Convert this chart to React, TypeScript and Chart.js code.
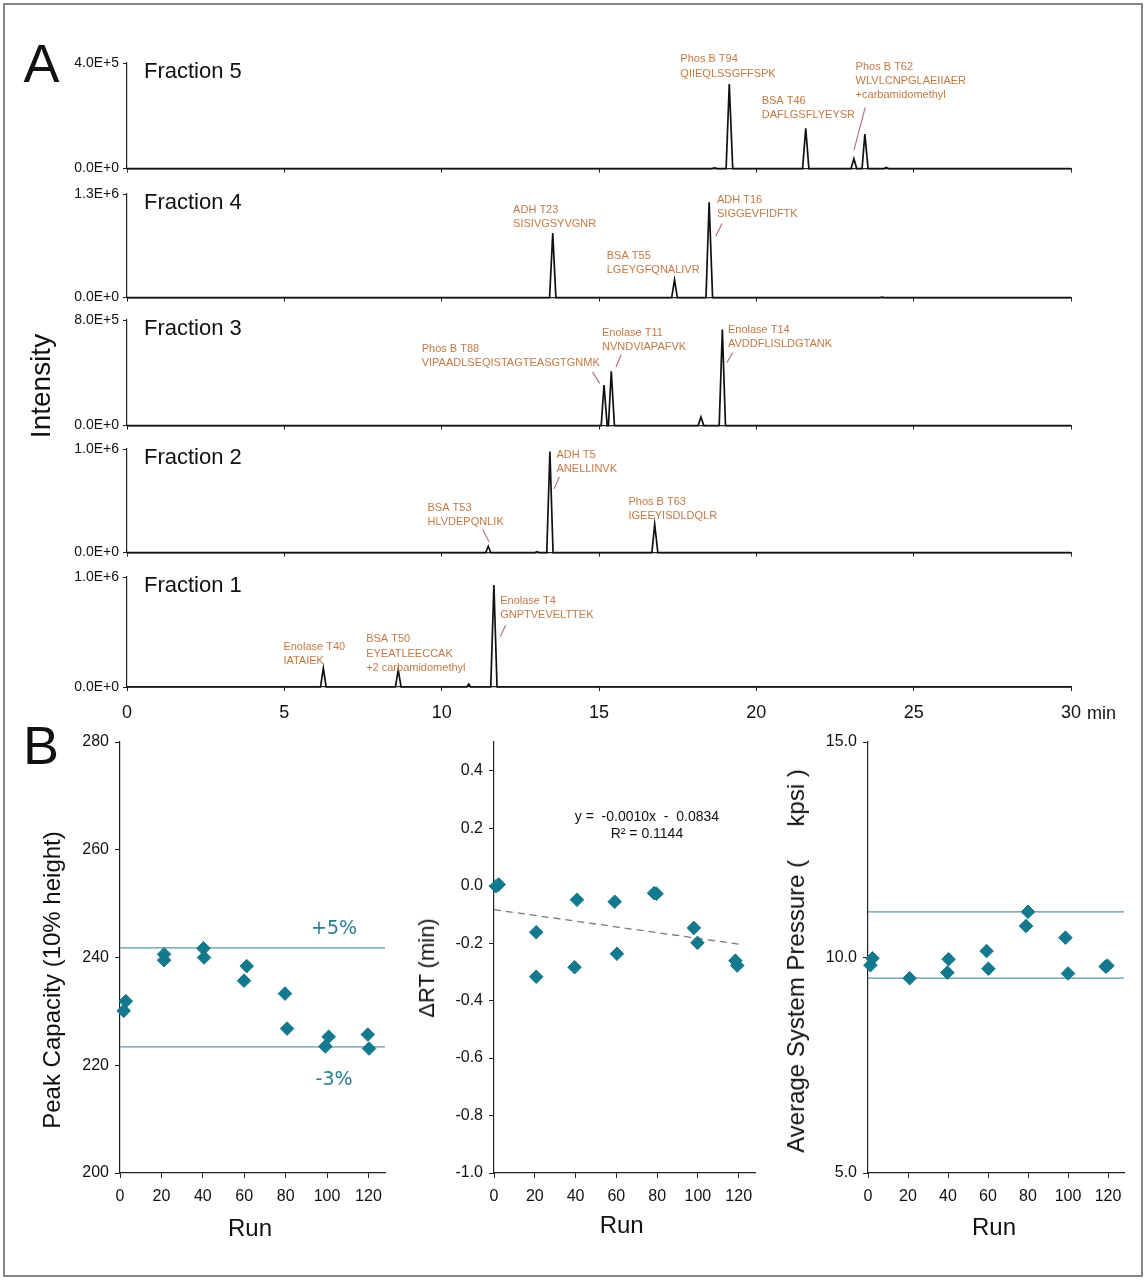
import React, { useEffect, useRef } from 'react';
import { Chart, registerables } from 'chart.js';

Chart.register(...registerables);
Chart.defaults.font.family = '"Liberation Sans", Arial, sans-serif';
Chart.defaults.color = '#111';

// ---------- Panel A: chromatograms ----------
const timeTicks = [0, 5, 10, 15, 20, 25, 30];
const fractionNames = ['Fraction 5', 'Fraction 4', 'Fraction 3', 'Fraction 2', 'Fraction 1'];
const fractionMax = [4e5, 1.3e6, 8e5, 1e6, 1e6];

const fraction5Time = [0, 18.58, 18.67, 18.76, 19.04, 19.14, 19.25, 21.47, 21.57, 21.67, 23.01, 23.1, 23.19, 23.36, 23.45, 23.55, 24.06, 24.13, 24.2, 30];
const fraction5Intensity = [0, 0, 3000, 0, 0, 3.2e5, 0, 0, 1.53e5, 0, 0, 0.375e5, 0, 0, 1.31e5, 0, 0, 4000, 0, 0];
const fraction4Time = [0, 13.43, 13.53, 13.63, 17.31, 17.4, 17.49, 18.4, 18.5, 18.61, 23.93, 24.0, 24.07, 30];
const fraction4Intensity = [0, 0, 0.809e6, 0, 0, 0.222e6, 0, 0, 1.196e6, 0, 0, 6000, 0, 0];
const fraction3Time = [0, 15.07, 15.16, 15.26, 15.3, 15.39, 15.49, 18.15, 18.24, 18.33, 18.82, 18.92, 19.02, 30];
const fraction3Intensity = [0, 0, 3.08e5, 0, 0, 4.12e5, 0, 0, 0.65e5, 0, 0, 7.27e5, 0, 0];
const fraction2Time = [0, 11.4, 11.48, 11.56, 12.97, 13.03, 13.09, 13.34, 13.44, 13.54, 16.68, 16.77, 16.87, 30];
const fraction2Intensity = [0, 0, 0.061e6, 0, 0, 0.008e6, 0, 0, 0.975e6, 0, 0, 0.273e6, 0, 0];
const fraction1Time = [0, 6.15, 6.24, 6.33, 8.53, 8.62, 8.71, 10.8, 10.86, 10.92, 11.56, 11.66, 11.76, 30];
const fraction1Intensity = [0, 0, 0.17e6, 0, 0, 0.155e6, 0, 0, 0.027e6, 0, 0, 0.927e6, 0, 0];

const fractionTimes = [fraction5Time, fraction4Time, fraction3Time, fraction2Time, fraction1Time];
const fractionIntensities = [fraction5Intensity, fraction4Intensity, fraction3Intensity, fraction2Intensity, fraction1Intensity];

type Note = { x: number; y: number; lines: string[] };
type Leader = { x1: number; y1: number; x2: number; y2: number };

const fraction5Notes: Note[] = [
  { x: 17.585, y: 4.145e5, lines: ['Phos B T94', 'QIIEQLSSGFFSPK'] },
  { x: 20.17, y: 2.571e5, lines: ['BSA T46', 'DAFLGSFLYEYSR'] },
  { x: 23.155, y: 3.865e5, lines: ['Phos B T62', 'WLVLCNPGLAEIIAER', '+carbamidomethyl'] },
];
const fraction5Leaders: Leader[] = [{ x1: 23.46, y1: 2.316e5, x2: 23.1, y2: 0.691e5 }];

const fraction4Notes: Note[] = [
  { x: 12.27, y: 1.105e6, lines: ['ADH T23', 'SISIVGSYVGNR'] },
  { x: 15.246, y: 0.525e6, lines: ['BSA T55', 'LGEYGFQNALIVR'] },
  { x: 18.75, y: 1.228e6, lines: ['ADH T16', 'SIGGEVFIDFTK'] },
];
const fraction4Leaders: Leader[] = [{ x1: 18.91, y1: 0.929e6, x2: 18.71, y2: 0.769e6 }];

const fraction3Notes: Note[] = [
  { x: 9.365, y: 5.82e5, lines: ['Phos B T88', 'VIPAADLSEQISTAGTEASGTGNMK'] },
  { x: 15.094, y: 7.03e5, lines: ['Enolase T11', 'NVNDVIAPAFVK'] },
  { x: 19.098, y: 7.27e5, lines: ['Enolase T14', 'AVDDFLISLDGTANK'] },
];
const fraction3Leaders: Leader[] = [
  { x1: 14.795, y1: 4.07e5, x2: 15.02, y2: 3.2e5 },
  { x1: 15.707, y1: 5.38e5, x2: 15.54, y2: 4.44e5 },
  { x1: 19.247, y1: 5.51e5, x2: 19.066, y2: 4.78e5 },
];

const fraction2Notes: Note[] = [
  { x: 9.55, y: 0.43e6, lines: ['BSA T53', 'HLVDEPQNLIK'] },
  { x: 13.65, y: 0.945e6, lines: ['ADH T5', 'ANELLINVK'] },
  { x: 15.936, y: 0.492e6, lines: ['Phos B T63', 'IGEEYISDLDQLR'] },
];
const fraction2Leaders: Leader[] = [
  { x1: 11.306, y1: 0.222e6, x2: 11.506, y2: 0.104e6 },
  { x1: 13.743, y1: 0.729e6, x2: 13.569, y2: 0.615e6 },
];

const fraction1Notes: Note[] = [
  { x: 4.97, y: 0.366e6, lines: ['Enolase T40', 'IATAIEK'] },
  { x: 7.6, y: 0.434e6, lines: ['BSA T50', 'EYEATLEECCAK', '+2 carbamidomethyl'] },
  { x: 11.86, y: 0.782e6, lines: ['Enolase T4', 'GNPTVEVELTTEK'] },
];
const fraction1Leaders: Leader[] = [{ x1: 12.037, y1: 0.564e6, x2: 11.86, y2: 0.457e6 }];

const fractionNotes = [fraction5Notes, fraction4Notes, fraction3Notes, fraction2Notes, fraction1Notes];
const fractionLeaders = [fraction5Leaders, fraction4Leaders, fraction3Leaders, fraction2Leaders, fraction1Leaders];

// ---------- Panel B ----------
const runTicks = [0, 20, 40, 60, 80, 100, 120];

const runPeakCapacity = [1.8, 2.8, 21.3, 21.3, 40.3, 40.6, 59.9, 61.2, 79.7, 80.7, 99.2, 100.8, 119.7, 120.3];
const peakCapacity = [230.1, 231.9, 240.6, 239.5, 241.7, 240.0, 235.7, 238.4, 233.3, 226.8, 223.5, 225.3, 225.7, 223.1];
const peakCapacityLimits = [241.8, 223.4];
const peakCapacityLimitLabels = ['+5%', '-3%'];
const peakCapacityLabelRun = [103.4, 103.4];
const peakCapacityLabelValue = [245.2, 217.2];
const peakCapacityTicks = [200, 220, 240, 260, 280];

const runDeltaRT = [1.0, 2.3, 20.7, 20.7, 39.5, 40.7, 59.2, 60.3, 78.5, 79.7, 98.0, 99.8, 118.4, 119.3];
const deltaRT = [-0.002, 0.004, -0.162, -0.317, -0.284, -0.049, -0.056, -0.237, -0.026, -0.028, -0.147, -0.199, -0.261, -0.278];
const trendRun = [0, 120];
const trendDeltaRT = [-0.0834, -0.2034];
const trendText = ['y =  -0.0010x  -  0.0834', 'R\u00b2 = 0.1144'];
const deltaRTTicks = [-1.0, -0.8, -0.6, -0.4, -0.2, 0.0, 0.2, 0.4];

const runPressure = [1.2, 2.2, 20.8, 39.7, 40.3, 59.3, 60.2, 79.0, 80.0, 98.7, 100.0, 118.8, 119.7];
const pressure = [9.82, 9.98, 9.52, 9.65, 9.96, 10.15, 9.74, 10.73, 11.06, 10.46, 9.63, 9.79, 9.81];
const pressureLimits = [11.06, 9.52];
const pressureTicks = [5, 10, 15];

// ---------- styles ----------
const ANNOT_COLOR = '#c27a45';
const LEADER_COLOR = '#b06a74';
const TEAL = '#14798d';
const LIMIT_COLOR = '#5a94ab';
const FONT = '"Liberation Sans", Arial, sans-serif';

type TextSpec = { x: number; y: number; lines: string[]; font: string; color: string; align: CanvasTextAlign; lineHeight: number };

function makeNotes(texts: TextSpec[], leaders: Leader[], corner?: string) {
  return {
    id: 'notes',
    afterDraw(chart: any) {
      const { ctx, chartArea } = chart;
      const xs = chart.scales.x;
      const ys = chart.scales.y;
      ctx.save();
      leaders.forEach((s) => {
        ctx.beginPath();
        ctx.strokeStyle = LEADER_COLOR;
        ctx.lineWidth = 1.1;
        ctx.moveTo(xs.getPixelForValue(s.x1), ys.getPixelForValue(s.y1));
        ctx.lineTo(xs.getPixelForValue(s.x2), ys.getPixelForValue(s.y2));
        ctx.stroke();
      });
      texts.forEach((t) => {
        ctx.font = t.font;
        ctx.fillStyle = t.color;
        ctx.textAlign = t.align;
        ctx.textBaseline = 'middle';
        const px = xs.getPixelForValue(t.x);
        const py = ys.getPixelForValue(t.y);
        t.lines.forEach((line, k) => ctx.fillText(line, px, py + k * t.lineHeight));
      });
      if (corner) {
        ctx.font = `22px ${FONT}`;
        ctx.fillStyle = '#111';
        ctx.textAlign = 'left';
        ctx.textBaseline = 'middle';
        ctx.fillText(corner, chartArea.left + 17, chartArea.top + 9);
      }
      ctx.restore();
    },
  };
}

const axisGrid = (len: number) => ({ display: true, drawOnChartArea: false, drawTicks: true, tickLength: len, color: '#222', lineWidth: 1 });
const axisBorder = { display: true, color: '#222', width: 1.2 };

function chromatogramConfig(idx: number, padTop: number, bottomH: number, showX: boolean) {
  const times = fractionTimes[idx];
  const vals = fractionIntensities[idx];
  const max = fractionMax[idx];
  const texts: TextSpec[] = fractionNotes[idx].map((n) => ({
    x: n.x, y: n.y, lines: n.lines, font: `11px ${FONT}`, color: ANNOT_COLOR, align: 'left', lineHeight: 14.3,
  }));
  return {
    type: 'scatter',
    data: {
      datasets: [{
        data: times.map((t, k) => ({ x: t, y: vals[k] })),
        showLine: true, borderColor: '#111', borderWidth: 1.7, pointRadius: 0, tension: 0, clip: false,
      }],
    },
    options: {
      animation: false, responsive: false, events: [],
      layout: { padding: { top: padTop, right: 76, bottom: 0, left: 0 } },
      plugins: { legend: { display: false }, tooltip: { enabled: false } },
      scales: {
        x: {
          type: 'linear', min: 0, max: 30,
          afterBuildTicks: (s: any) => { s.ticks = timeTicks.map((v) => ({ value: v })); },
          afterFit: (s: any) => { s.height = bottomH; },
          grid: axisGrid(4), border: axisBorder,
          ticks: { display: showX, font: { size: 18 }, color: '#111', padding: 11, maxRotation: 0, autoSkip: false },
        },
        y: {
          type: 'linear', min: 0, max,
          afterBuildTicks: (s: any) => { s.ticks = [{ value: 0 }, { value: max }]; },
          afterFit: (s: any) => { s.width = 127; },
          grid: axisGrid(4), border: axisBorder,
          ticks: { font: { size: 14 }, color: '#111', padding: 4, callback: (v: any) => Number(v).toExponential(1).toUpperCase() },
        },
      },
    },
    plugins: [makeNotes(texts, fractionLeaders[idx], fractionNames[idx])],
  };
}

function scatterConfig(opts: {
  run: number[]; vals: number[]; min: number; max: number; ticks: number[]; fmt: (v: number) => string;
  yWidth: number; padRight: number; bottomH: number; extra: any[]; texts: TextSpec[];
}) {
  return {
    type: 'scatter',
    data: {
      datasets: [
        {
          data: opts.run.map((r, k) => ({ x: r, y: opts.vals[k] })),
          pointStyle: 'rectRot', pointRadius: 6.8, backgroundColor: TEAL, borderColor: TEAL, borderWidth: 1, clip: false,
        },
        ...opts.extra,
      ],
    },
    options: {
      animation: false, responsive: false, events: [],
      layout: { padding: { top: 22, right: opts.padRight, bottom: 0, left: 0 } },
      plugins: { legend: { display: false }, tooltip: { enabled: false } },
      scales: {
        x: {
          type: 'linear', min: 0, max: 128,
          afterBuildTicks: (s: any) => { s.ticks = runTicks.map((v) => ({ value: v })); },
          afterFit: (s: any) => { s.height = opts.bottomH; },
          grid: axisGrid(5), border: axisBorder,
          ticks: { font: { size: 16 }, color: '#111', padding: 9, maxRotation: 0, autoSkip: false },
        },
        y: {
          type: 'linear', min: opts.min, max: opts.max,
          afterBuildTicks: (s: any) => { s.ticks = opts.ticks.map((v) => ({ value: v })); },
          afterFit: (s: any) => { s.width = opts.yWidth; },
          grid: axisGrid(5), border: axisBorder,
          ticks: { font: { size: 16 }, color: '#111', padding: 6, callback: (v: any) => opts.fmt(Number(v)) },
        },
      },
    },
    plugins: [makeNotes(opts.texts, [])],
  };
}

const limitLine = (v: number) => ({
  data: [{ x: 0, y: v }, { x: 128, y: v }], showLine: true, pointRadius: 0, borderColor: LIMIT_COLOR, borderWidth: 1.3, clip: false,
});

function ChartBox({ left, top, width, height, make }: { left: number; top: number; width: number; height: number; make: () => any }) {
  const ref = useRef<HTMLCanvasElement>(null);
  useEffect(() => {
    const chart = new Chart(ref.current as HTMLCanvasElement, make());
    return () => chart.destroy();
  }, []);
  return (
    <div style={{ position: 'absolute', left, top, width, height }}>
      <canvas ref={ref} width={width} height={height} style={{ width, height, display: 'block' }} />
    </div>
  );
}

function Label({ x, y, text, size, rotate = 0, anchor = 'center' }: { x: number; y: number; text: string; size: number; rotate?: number; anchor?: 'center' | 'left' }) {
  const tx = anchor === 'center' ? '-50%' : '0';
  return (
    <div style={{
      position: 'absolute', left: x, top: y, transform: `translate(${tx},-50%) rotate(${rotate}deg)`,
      fontSize: size, fontFamily: FONT, color: '#111', whiteSpace: 'pre', lineHeight: 1,
    }}>{text}</div>
  );
}

const axisTops = [63, 194, 320, 449, 577];
const axisBases = [173, 302, 430, 557, 687];

export default function App() {
  const PAD = 22;
  return (
    <div style={{ position: 'absolute', left: 0, top: 0, width: 1147, height: 1280, background: '#fff', overflow: 'hidden' }}>
      <div style={{ position: 'absolute', left: 3, top: 3, width: 1140, height: 1274, border: '2px solid #858585', boxSizing: 'border-box' }} />
      {fractionNames.map((_, i) => {
        const bottomH = i === 4 ? 50 : 8;
        const h = axisBases[i] - axisTops[i] + PAD + bottomH;
        return (
          <ChartBox key={i} left={0} top={axisTops[i] - PAD} width={1147} height={h}
            make={() => chromatogramConfig(i, PAD, bottomH, i === 4)} />
        );
      })}
      <ChartBox left={0} top={720} width={400} height={500} make={() => scatterConfig({
        run: runPeakCapacity, vals: peakCapacity, min: 200, max: 280, ticks: peakCapacityTicks,
        fmt: (v) => String(v), yWidth: 120, padRight: 15, bottomH: 47,
        extra: peakCapacityLimits.map(limitLine),
        texts: peakCapacityLimitLabels.map((t, k) => ({
          x: peakCapacityLabelRun[k], y: peakCapacityLabelValue[k], lines: [t],
          font: '19px "DejaVu Sans", sans-serif', color: '#2b7d96', align: 'center' as CanvasTextAlign, lineHeight: 20,
        })),
      })} />
      <ChartBox left={375} top={720} width={400} height={500} make={() => scatterConfig({
        run: runDeltaRT, vals: deltaRT, min: -1.0, max: 0.5, ticks: deltaRTTicks,
        fmt: (v) => v.toFixed(1), yWidth: 119, padRight: 20, bottomH: 47,
        extra: [{
          data: trendRun.map((r, k) => ({ x: r, y: trendDeltaRT[k] })), showLine: true, pointRadius: 0,
          borderColor: '#7a7a7a', borderWidth: 1.3, borderDash: [7, 5], clip: false,
        }],
        texts: [{ x: 75, y: 0.237, lines: trendText, font: `14px ${FONT}`, color: '#111', align: 'center', lineHeight: 17 }],
      })} />
      <ChartBox left={750} top={720} width={397} height={500} make={() => scatterConfig({
        run: runPressure, vals: pressure, min: 5, max: 15, ticks: pressureTicks,
        fmt: (v) => v.toFixed(1), yWidth: 118, padRight: 23, bottomH: 47,
        extra: pressureLimits.map(limitLine), texts: [],
      })} />
      <Label x={41.5} y={62.5} text="A" size={54} />
      <Label x={41} y={745} text="B" size={54} />
      <Label x={40.7} y={386} text="Intensity" size={28} rotate={-90} />
      <Label x={1087} y={713} text="min" size={18} anchor="left" />
      <Label x={52} y={980} text="Peak Capacity (10% height)" size={24} rotate={-90} />
      <Label x={426.5} y={968} text={'\u0394RT (min)'} size={22} rotate={-90} />
      <Label x={796} y={961} text="Average System Pressure (     kpsi )" size={24} rotate={-90} />
      <Label x={250} y={1227.7} text="Run" size={24} />
      <Label x={621.7} y={1225} text="Run" size={24} />
      <Label x={994} y={1227} text="Run" size={24} />
    </div>
  );
}
